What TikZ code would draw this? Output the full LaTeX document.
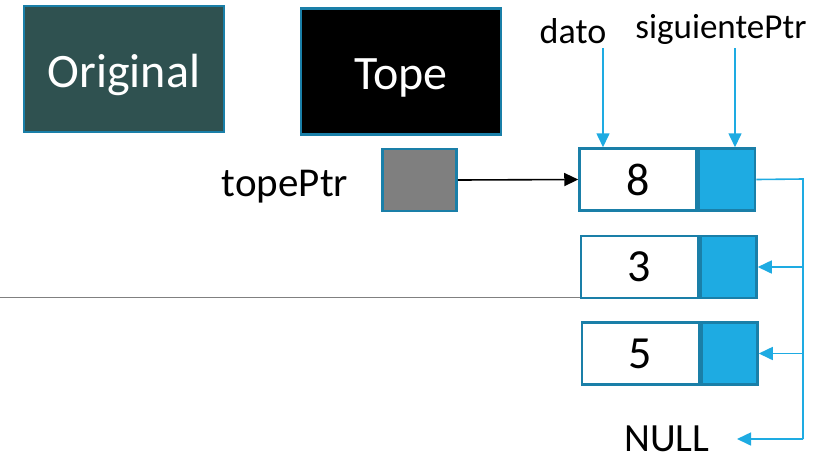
\documentclass[tikz,border=0pt]{standalone}
\usepackage{fontspec}
\setmainfont{Carlito}
\usetikzlibrary{arrows.meta}
\definecolor{edgeblue}{HTML}{1A7FA8}
\definecolor{cellblue}{HTML}{1EABE2}
\definecolor{slate}{HTML}{2F5150}
\definecolor{ptrgray}{HTML}{7F7F7F}
\tikzset{
  titlebox/.style={draw=edgeblue, line width=2.5pt, minimum width=200pt, minimum height=126pt, text=white, font=\fontsize{48}{50}\selectfont, inner sep=0pt, text height=36pt, text depth=0pt},
  datacell/.style={draw=edgeblue, line width=2.5pt, fill=white, minimum width=117pt, minimum height=62pt, inner sep=0pt, font=\fontsize{46}{50}\selectfont},
  linkcell/.style={draw=edgeblue, line width=2.5pt, fill=cellblue, minimum width=56pt, minimum height=62pt, inner sep=0pt},
  label/.style={font=\fontsize{#1}{#1}\selectfont, inner sep=0pt},
  bluearrow/.style={draw=cellblue, line width=1.6pt, -{Triangle[length=14pt,width=13pt]}},
  blueline/.style={draw=cellblue, line width=1.6pt}
}
\begin{document}
\begin{tikzpicture}[x=1pt,y=-1pt]
\useasboundingbox (0,0) rectangle (838,459);

% separator line
\draw[gray, line width=0.8pt] (0,297) -- (581,297);

% title boxes
\node[titlebox, fill=slate] (orig) at (124,69) {Original};
\node[titlebox, fill=black] (tope) at (401,71.5) {Tope};

% top pointer
\node[label=41, anchor=center] (ptrlabel) at (285,187) {topePtr};
\node[draw=edgeblue, line width=2.5pt, fill=ptrgray, minimum width=74pt, minimum height=62pt, inner sep=0pt] (ptr) at (419.5,180) {};

% list nodes
\node[datacell] (d8) at (638,179.5) {8};
\node[linkcell, anchor=west] (n8) at (d8.east) {};
\node[datacell] (d3) at (639.5,267) {3};
\node[linkcell, anchor=west] (n3) at (d3.east) {};
\node[datacell] (d5) at (640.5,353.5) {5};
\node[linkcell, anchor=west] (n5) at (d5.east) {};

% field labels
\node[label=36] (dato) at (573,31) {dato};
\node[label=35] (sig) at (721,29) {siguientePtr};
\coordinate (datotop) at (603,48);
\coordinate (sigtop) at (735,48);
\draw[bluearrow] (datotop) -- (datotop |- d8.north);
\draw[bluearrow] (sigtop) -- (sigtop |- n8.north);

% NULL terminator
\node[label=40, anchor=base] (null) at (667,451) {NULL};
\coordinate (nullend) at (737,439);

% pointer from topePtr to first node
\draw[line width=1.6pt, -{Triangle[length=14pt,width=13pt]}] (ptr.east) -- (d8.west);

% links on the right
\coordinate (rail) at (803,179);
\draw[blueline] (n8.east) -- (rail) -- (rail |- nullend);
\draw[bluearrow] (rail |- n3.east) -- (n3.east);
\draw[bluearrow] (rail |- n5.east) -- (n5.east);
\draw[bluearrow] (rail |- nullend) -- (nullend);
\end{tikzpicture}
\end{document}
